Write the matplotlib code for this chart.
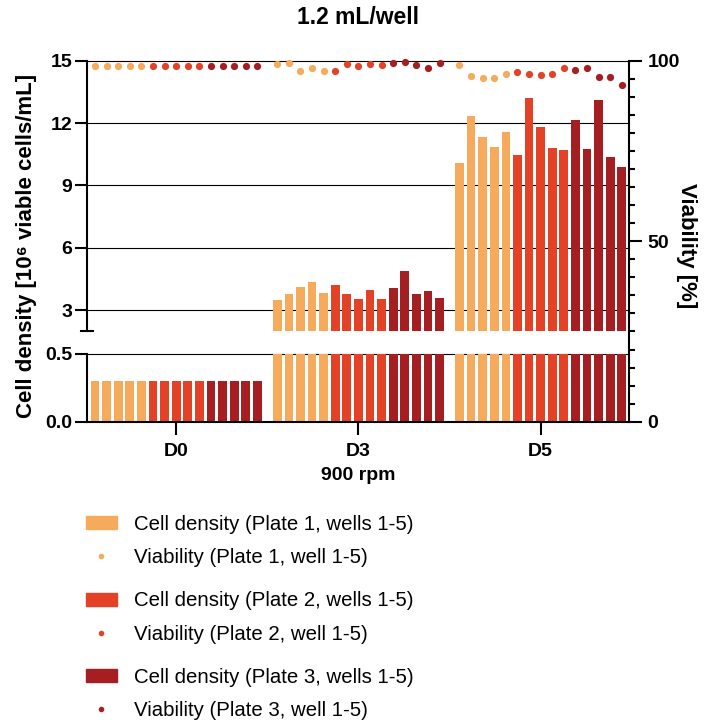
import numpy as np
import matplotlib.pyplot as plt
from matplotlib.ticker import MultipleLocator
from matplotlib.patches import Patch
from matplotlib.lines import Line2D

plt.rcParams['font.family'] = ['Liberation Sans', 'DejaVu Sans']
plt.rcParams['font.weight'] = 'bold'

days = ['D0', 'D3', 'D5']
plates = ['Plate 1', 'Plate 2', 'Plate 3']
colors = ['#F5AB5B', '#E44226', '#A51E22']

# cell density [10^6 viable cells/mL], wells 1-5, for D0 / D3 / D5
dens_p1 = [[0.3, 0.3, 0.3, 0.3, 0.3],
           [3.49, 3.79, 4.12, 4.36, 3.83],
           [10.08, 12.34, 11.33, 10.85, 11.57]]
dens_p2 = [[0.3, 0.3, 0.3, 0.3, 0.3],
           [4.22, 3.79, 3.56, 3.98, 3.56],
           [10.47, 13.21, 11.81, 10.80, 10.71]]
dens_p3 = [[0.3, 0.3, 0.3, 0.3, 0.3],
           [4.07, 4.90, 3.79, 3.93, 3.61],
           [12.15, 10.76, 13.11, 10.37, 9.89]]

# viability [%]
via_p1 = [[98.6, 98.6, 98.6, 98.6, 98.6],
          [99.05, 99.25, 97.05, 97.95, 97.2],
          [98.7, 95.8, 95.2, 95.2, 96.4]]
via_p2 = [[98.6, 98.6, 98.6, 98.6, 98.6],
          [97.25, 99.1, 98.45, 99.15, 98.7],
          [96.9, 96.4, 96.0, 96.3, 97.9]]
via_p3 = [[98.6, 98.6, 98.6, 98.6, 98.6],
          [99.45, 99.55, 98.75, 97.95, 99.3],
          [97.5, 97.9, 95.4, 95.6, 93.2]]

dens = [dens_p1, dens_p2, dens_p3]
via = [via_p1, via_p2, via_p3]

W, H = 709, 727
fig = plt.figure(figsize=(W / 100, H / 100), dpi=100)

def fy(px):
    return 1 - px / H

left = 87.3 / W
width = (629.3 - 87.3) / W
ax_top = fig.add_axes([left, fy(331), width, fy(60.7) - fy(331)])
ax_bot = fig.add_axes([left, fy(421.7), width, fy(354) - fy(421.7)])
ax_v = fig.add_axes([left, fy(421.7), width, fy(60.7) - fy(421.7)])

group_step = 15.72
xlim = (-7.67, 39.09)
lw = 1.5

for p in range(3):
    for g in range(3):
        xs = g * group_step + p * 5 + np.arange(5) - 7
        for ax in (ax_top, ax_bot):
            ax.bar(xs, dens[p][g], width=0.75, color=colors[p], zorder=2)
        ax_v.plot(xs, via[p][g], 'o', ms=5.2, color=colors[p], mec='none',
                  clip_on=False, zorder=3)

# upper segment
ax_top.set_xlim(xlim)
ax_top.set_ylim(2, 15)
ax_top.set_yticks([3, 6, 9, 12, 15])
for v in [3, 6, 9, 12, 15]:
    ax_top.axhline(v, color='black', lw=0.8, zorder=1, clip_on=False)
ax_top.set_xticks([])
for s in ['top', 'right', 'bottom']:
    ax_top.spines[s].set_visible(False)
ax_top.spines['left'].set_linewidth(lw)
ax_top.tick_params(axis='y', length=9, width=lw, labelsize=14, pad=2)
ax_top.plot([-0.011, 0.011], [0, 0], transform=ax_top.transAxes,
            color='black', lw=lw, clip_on=False)
ax_top.patch.set_visible(False)

# lower segment
ax_bot.set_xlim(xlim)
ax_bot.set_ylim(0, 0.5)
ax_bot.set_yticks([0, 0.5])
ax_bot.set_yticklabels(['0.0', '0.5'])
ax_bot.axhline(0.5, color='black', lw=0.8, zorder=1, clip_on=False)
ax_bot.set_xticks([g * group_step for g in range(3)])
ax_bot.set_xticklabels(days)
for s in ['top', 'right']:
    ax_bot.spines[s].set_visible(False)
ax_bot.spines['left'].set_linewidth(lw)
ax_bot.spines['bottom'].set_linewidth(lw)
ax_bot.tick_params(axis='both', length=9, width=lw, labelsize=14, pad=2)
ax_bot.tick_params(axis='x', pad=6)
ax_bot.patch.set_visible(False)

# viability axis
ax_v.set_xlim(xlim)
ax_v.set_ylim(0, 100)
ax_v.patch.set_visible(False)
for s in ['top', 'left', 'bottom']:
    ax_v.spines[s].set_visible(False)
ax_v.spines['right'].set_linewidth(lw)
ax_v.set_xticks([])
ax_v.yaxis.tick_right()
ax_v.set_yticks([0, 50, 100])
ax_v.yaxis.set_minor_locator(MultipleLocator(5))
ax_v.tick_params(axis='y', which='major', length=9, width=lw, labelsize=14, pad=4)
ax_v.tick_params(axis='y', which='minor', length=4.3, width=lw)

fig.text(358 / W, fy(18), '1.2 mL/well', ha='center', va='center', fontsize=16.5)
fig.text(27 / W, fy(246), 'Cell density [10\u2076 viable cells/mL]', rotation=90,
         ha='center', va='center', fontsize=16)
fig.text(686 / W, fy(246), 'Viability [%]', rotation=-90,
         ha='center', va='center', fontsize=16)
fig.text(358 / W, fy(475), '900 rpm', ha='center', va='center', fontsize=14)

pair_centers = [541, 617.5, 694]
for p in range(3):
    handles = [Patch(color=colors[p]),
               Line2D([], [], ls='none', marker='o', ms=4, color=colors[p], mec='none')]
    labels = ['Cell density (%s, wells 1-5)' % plates[p],
              'Viability (%s, well 1-5)' % plates[p]]
    fig.legend(handles, labels, loc='center left',
               bbox_to_anchor=(86 / W, fy(pair_centers[p])),
               frameon=False, borderpad=0, borderaxespad=0,
               handlelength=1.5, handleheight=0.6, handletextpad=0.85,
               labelspacing=0.7, prop={'size': 14.7, 'weight': 'normal'})

fig.savefig('out.png', dpi=100)
